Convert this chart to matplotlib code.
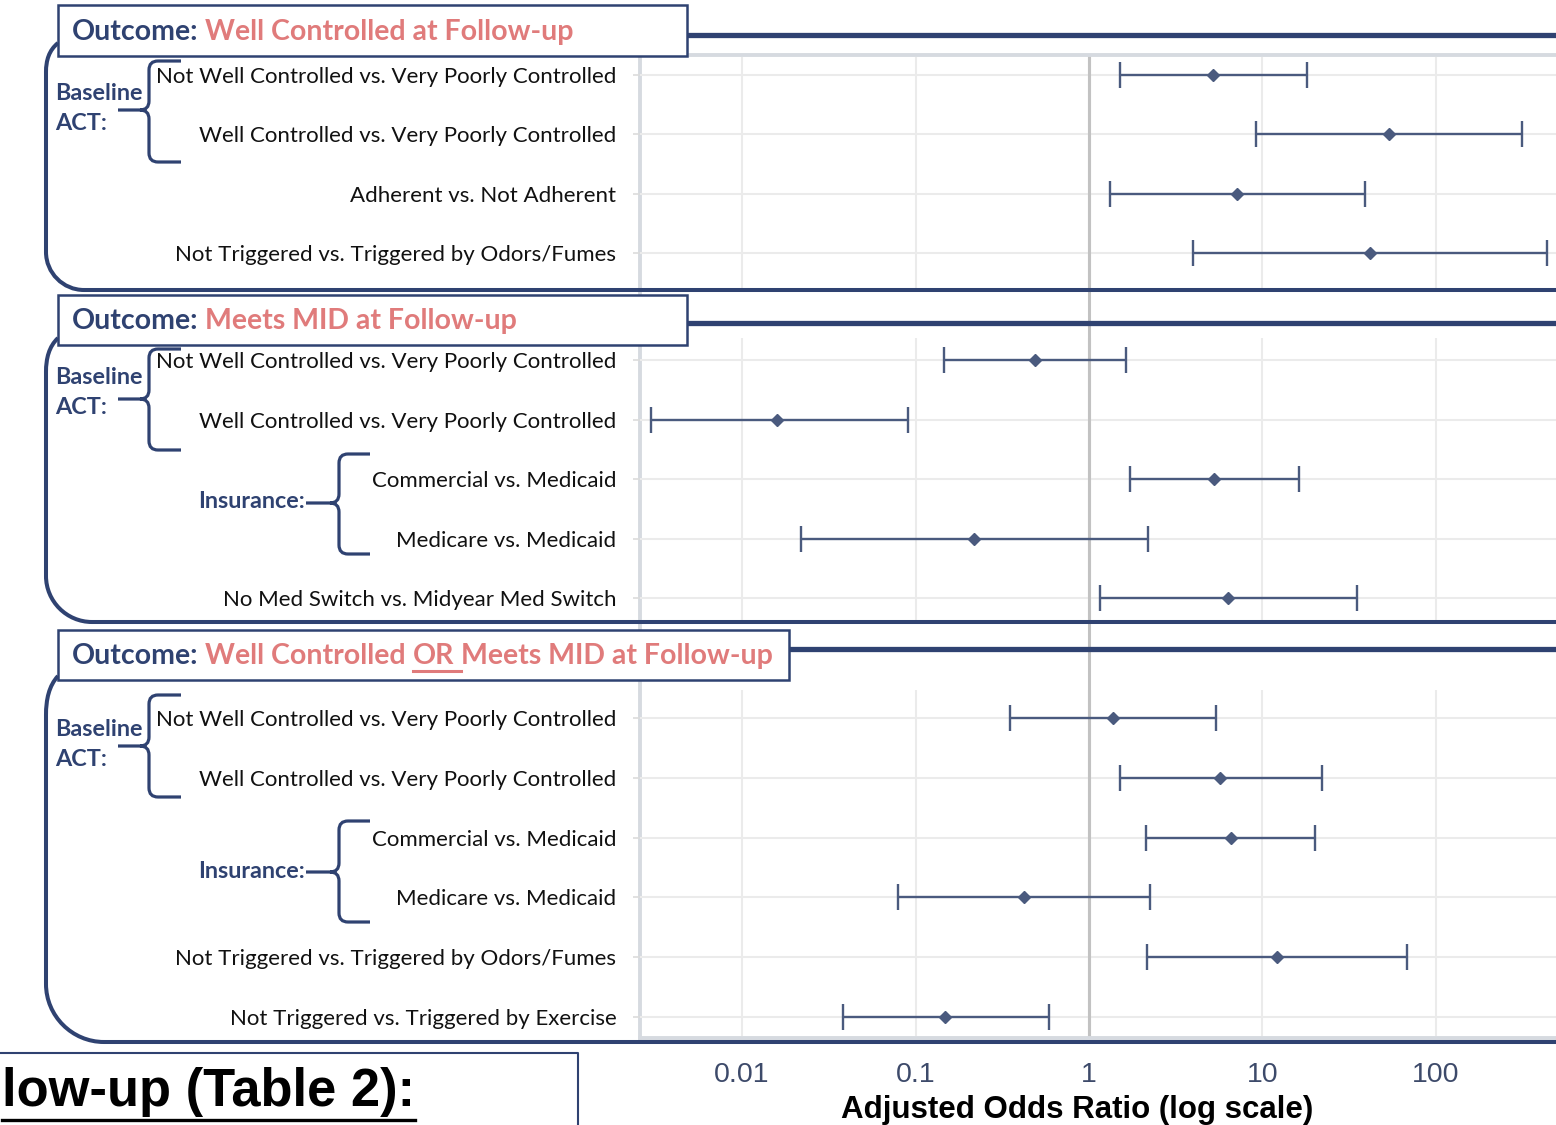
import matplotlib
matplotlib.use('Agg')
import numpy as np
import matplotlib.pyplot as plt
from matplotlib.path import Path
from matplotlib.patches import PathPatch, Rectangle
from matplotlib.ticker import NullLocator

# data
p1_labels = ['Not Well Controlled vs. Very Poorly Controlled',
             'Well Controlled vs. Very Poorly Controlled',
             'Adherent vs. Not Adherent',
             'Not Triggered vs. Triggered by Odors/Fumes']
p1_or = [5.2, 53.6, 7.1, 41.7]
p1_lo = [1.51, 9.2, 1.32, 3.98]
p1_hi = [18.0, 313, 39.0, 436]

p2_labels = ['Not Well Controlled vs. Very Poorly Controlled',
             'Well Controlled vs. Very Poorly Controlled',
             'Commercial vs. Medicaid',
             'Medicare vs. Medicaid',
             'No Med Switch vs. Midyear Med Switch']
p2_or = [0.49, 0.016, 5.25, 0.217, 6.3]
p2_lo = [0.146, 0.003, 1.72, 0.022, 1.16]
p2_hi = [1.63, 0.091, 16.2, 2.19, 35.0]

p3_labels = ['Not Well Controlled vs. Very Poorly Controlled',
             'Well Controlled vs. Very Poorly Controlled',
             'Commercial vs. Medicaid',
             'Medicare vs. Medicaid',
             'Not Triggered vs. Triggered by Odors/Fumes',
             'Not Triggered vs. Triggered by Exercise']
p3_or = [1.37, 5.7, 6.6, 0.42, 12.1, 0.148]
p3_lo = [0.35, 1.51, 2.13, 0.079, 2.16, 0.038]
p3_hi = [5.4, 22.0, 20.1, 2.25, 68, 0.59]

x_ticks = [0.01, 0.1, 1, 10, 100]
x_tick_labels = ['0.01', '0.1', '1', '10', '100']

NAVY = '#2f4271'
SALMON = '#e07b7b'
MARK = '#4a5a7e'
GRID = '#ebebeb'
AXGRAY = '#d6dae0'
SANS = ['Lato', 'DejaVu Sans']
ARIAL = ['Liberation Sans', 'DejaVu Sans']

W, H = 1556, 1125
fig = plt.figure(figsize=(W / 100, H / 100), dpi=100)
XLIM = (0.00258, 492)


def px_axes(x0, y0, x1, y1):
    return fig.add_axes([x0 / W, 1 - y1 / H, (x1 - x0) / W, (y1 - y0) / H])


# background: axis lines, the line at 1 and the x ticks
bg = px_axes(640, 55, 1556, 1038)
bg.set_xscale('log')
bg.set_xlim(*XLIM)
bg.set_ylim(0, 1)
bg.xaxis.set_minor_locator(NullLocator())
bg.set_xticks(x_ticks, x_tick_labels)
bg.set_yticks([])
bg.tick_params(axis='x', length=0, pad=17, labelsize=20.5, labelcolor='#3d4a6a')
for lab in bg.get_xticklabels():
    lab.set_family(ARIAL)
bg.spines['right'].set_visible(False)
for s in ['left', 'bottom', 'top']:
    bg.spines[s].set_color(AXGRAY)
    bg.spines[s].set_linewidth(2.8)
bg.axvline(1, color='#c2c2c2', lw=2.2, zorder=1)

# the three panels
panels = [
    (p1_labels, p1_or, p1_lo, p1_hi, (57, 290), (3.62, -0.30)),
    (p2_labels, p2_or, p2_lo, p2_hi, (338, 622), (4.40, -0.37)),
    (p3_labels, p3_or, p3_lo, p3_hi, (690, 1036), (5.32, -0.47)),
]
for labels, orv, lo, hi, (ytop, ybot), ylim in panels:
    ax = px_axes(640, ytop, 1556, ybot)
    ax.patch.set_alpha(0)
    ax.set_xscale('log')
    ax.set_xlim(*XLIM)
    ax.xaxis.set_minor_locator(NullLocator())
    ax.set_xticks([0.01, 0.1, 10, 100])
    ax.tick_params(axis='x', length=0, labelbottom=False)
    rows = np.arange(len(labels))
    ax.set_yticks(rows, labels)
    ax.set_ylim(*ylim)
    ax.tick_params(axis='y', length=5, width=1.2, color='#dcdcdc', pad=12,
                   labelsize=16, labelcolor='#111111')
    for lab in ax.get_yticklabels():
        lab.set_family(SANS)
    ax.grid(True, color=GRID, lw=1.5)
    ax.set_axisbelow(True)
    for s in ax.spines.values():
        s.set_visible(False)
    ax.axvline(1, color='#c2c2c2', lw=2.2, zorder=1.5)
    orv = np.array(orv)
    err = [orv - np.array(lo), np.array(hi) - orv]
    ax.errorbar(orv, rows, xerr=err, fmt='D', color=MARK, ms=6.2, elinewidth=1.7,
                capsize=9.5, capthick=1.7, zorder=3)

# decoration layer in pixel coordinates
deco = fig.add_axes([0, 0, 1, 1])
deco.set_xlim(0, W)
deco.set_ylim(H, 0)
deco.axis('off')
deco.patch.set_alpha(0)


def frame(x0, y0, y1, ybot, r):
    xl = 46
    verts = [(x0, y0), (xl + 3, y0 + (y1 - y0) * 0.25), (xl, y0 + (y1 - y0) * 0.6), (xl, y1),
             (xl, ybot - r),
             (xl, ybot - r * 0.45), (xl + r * 0.45, ybot), (xl + r, ybot),
             (W + 10, ybot)]
    codes = [Path.MOVETO, Path.CURVE4, Path.CURVE4, Path.CURVE4, Path.LINETO,
             Path.CURVE4, Path.CURVE4, Path.CURVE4, Path.LINETO]
    deco.add_patch(PathPatch(Path(verts, codes), fill=False, ec=NAVY, lw=2.9,
                             capstyle='butt', zorder=2))


def brace(xs, yt, yb, xa, xt, ym):
    r = 9
    verts = [(xa, yt), (xs + r, yt), (xs, yt), (xs, yt + r), (xs, ym - r), (xs, ym), (xs - r, ym),
             (xt, ym),
             (xs - r, ym), (xs, ym), (xs, ym + r), (xs, yb - r), (xs, yb), (xs + r, yb), (xa, yb)]
    codes = [Path.MOVETO, Path.LINETO, Path.CURVE3, Path.CURVE3, Path.LINETO, Path.CURVE3, Path.CURVE3,
             Path.LINETO,
             Path.MOVETO, Path.CURVE3, Path.CURVE3, Path.LINETO, Path.CURVE3, Path.CURVE3, Path.LINETO]
    deco.add_patch(PathPatch(Path(verts, codes), fill=False, ec=NAVY, lw=2.3, zorder=3))


def header(x0, y0, x1, y1, yline):
    deco.plot([x1, W + 10], [yline, yline], color=NAVY, lw=3.8, solid_capstyle='butt', zorder=2)
    deco.add_patch(Rectangle((x0, y0), x1 - x0, y1 - y0, fc='white', ec=NAVY, lw=1.8, zorder=4))


def title(x, y, pieces):
    out = []
    for i, (s, c) in enumerate(pieces):
        kw = dict(color=c, fontsize=20.5, fontweight='bold', family=SANS, zorder=5)
        if i == 0:
            t = deco.text(x, y, s, va='center', ha='left', **kw)
        else:
            t = deco.annotate(s, xy=(1, 0), xycoords=out[-1], xytext=(5, 0),
                              textcoords='offset points', va='bottom', ha='left', **kw)
        out.append(t)
    return out


frame(58, 43, 72, 290, 38)
frame(58, 338, 372, 622, 46)
frame(58, 676, 715, 1042, 58)

header(58, 5, 687, 56, 35)
header(58, 295, 687, 345, 323)
header(58, 630, 789, 680, 649)

title(72, 32, [('Outcome:', NAVY), ('Well Controlled at Follow-up', SALMON)])
title(72, 321, [('Outcome:', NAVY), ('Meets MID at Follow-up', SALMON)])
t3 = title(72, 656, [('Outcome:', NAVY), ('Well Controlled', SALMON), ('OR', SALMON),
                     ('Meets MID at Follow-up', SALMON)])

for yb, ya in [(93, 124), (378, 408), (729, 759)]:
    deco.text(55, yb, 'Baseline', color=NAVY, fontsize=16.8, fontweight='bold', family=SANS,
              va='center', ha='left')
    deco.text(55, ya, 'ACT:', color=NAVY, fontsize=16.8, fontweight='bold', family=SANS,
              va='center', ha='left')
for yi in [501, 871]:
    deco.text(305, yi, 'Insurance:', color=NAVY, fontsize=16.8, fontweight='bold', family=SANS,
              va='center', ha='right')

brace(149, 61, 162, 181, 118, 110)
brace(149, 349, 450, 181, 118, 399)
brace(149, 695, 797, 181, 118, 746)
brace(339, 454, 554, 370, 306, 503)
brace(339, 821, 922, 370, 306, 872)

# bottom strip: cut-off poster heading and axis title
deco.plot([0, 578, 578], [1053, 1053, H + 5], color=NAVY, lw=1.5, zorder=2)
bottom_txt = deco.text(415, 1106, 'low-up (Table 2):', color='black', fontsize=37.8,
                       fontweight='bold', family=ARIAL, ha='right', va='baseline')
deco.text(1077, 1110, 'Adjusted Odds Ratio (log scale)', color='black', fontsize=22.5,
          fontweight='bold', family=ARIAL, ha='center', va='center')

# underlines need the rendered text extents
fig.canvas.draw()
inv = deco.transData.inverted()
bb = inv.transform(t3[2].get_window_extent().get_points())
deco.plot([bb[0][0], bb[1][0] + 7], [671, 671], color=SALMON, lw=2.2, zorder=5)
bb = inv.transform(bottom_txt.get_window_extent().get_points())
deco.plot([max(bb[0][0], 0), bb[1][0]], [1120, 1120], color='black', lw=2.4)

fig.savefig('out.png', dpi=100)
